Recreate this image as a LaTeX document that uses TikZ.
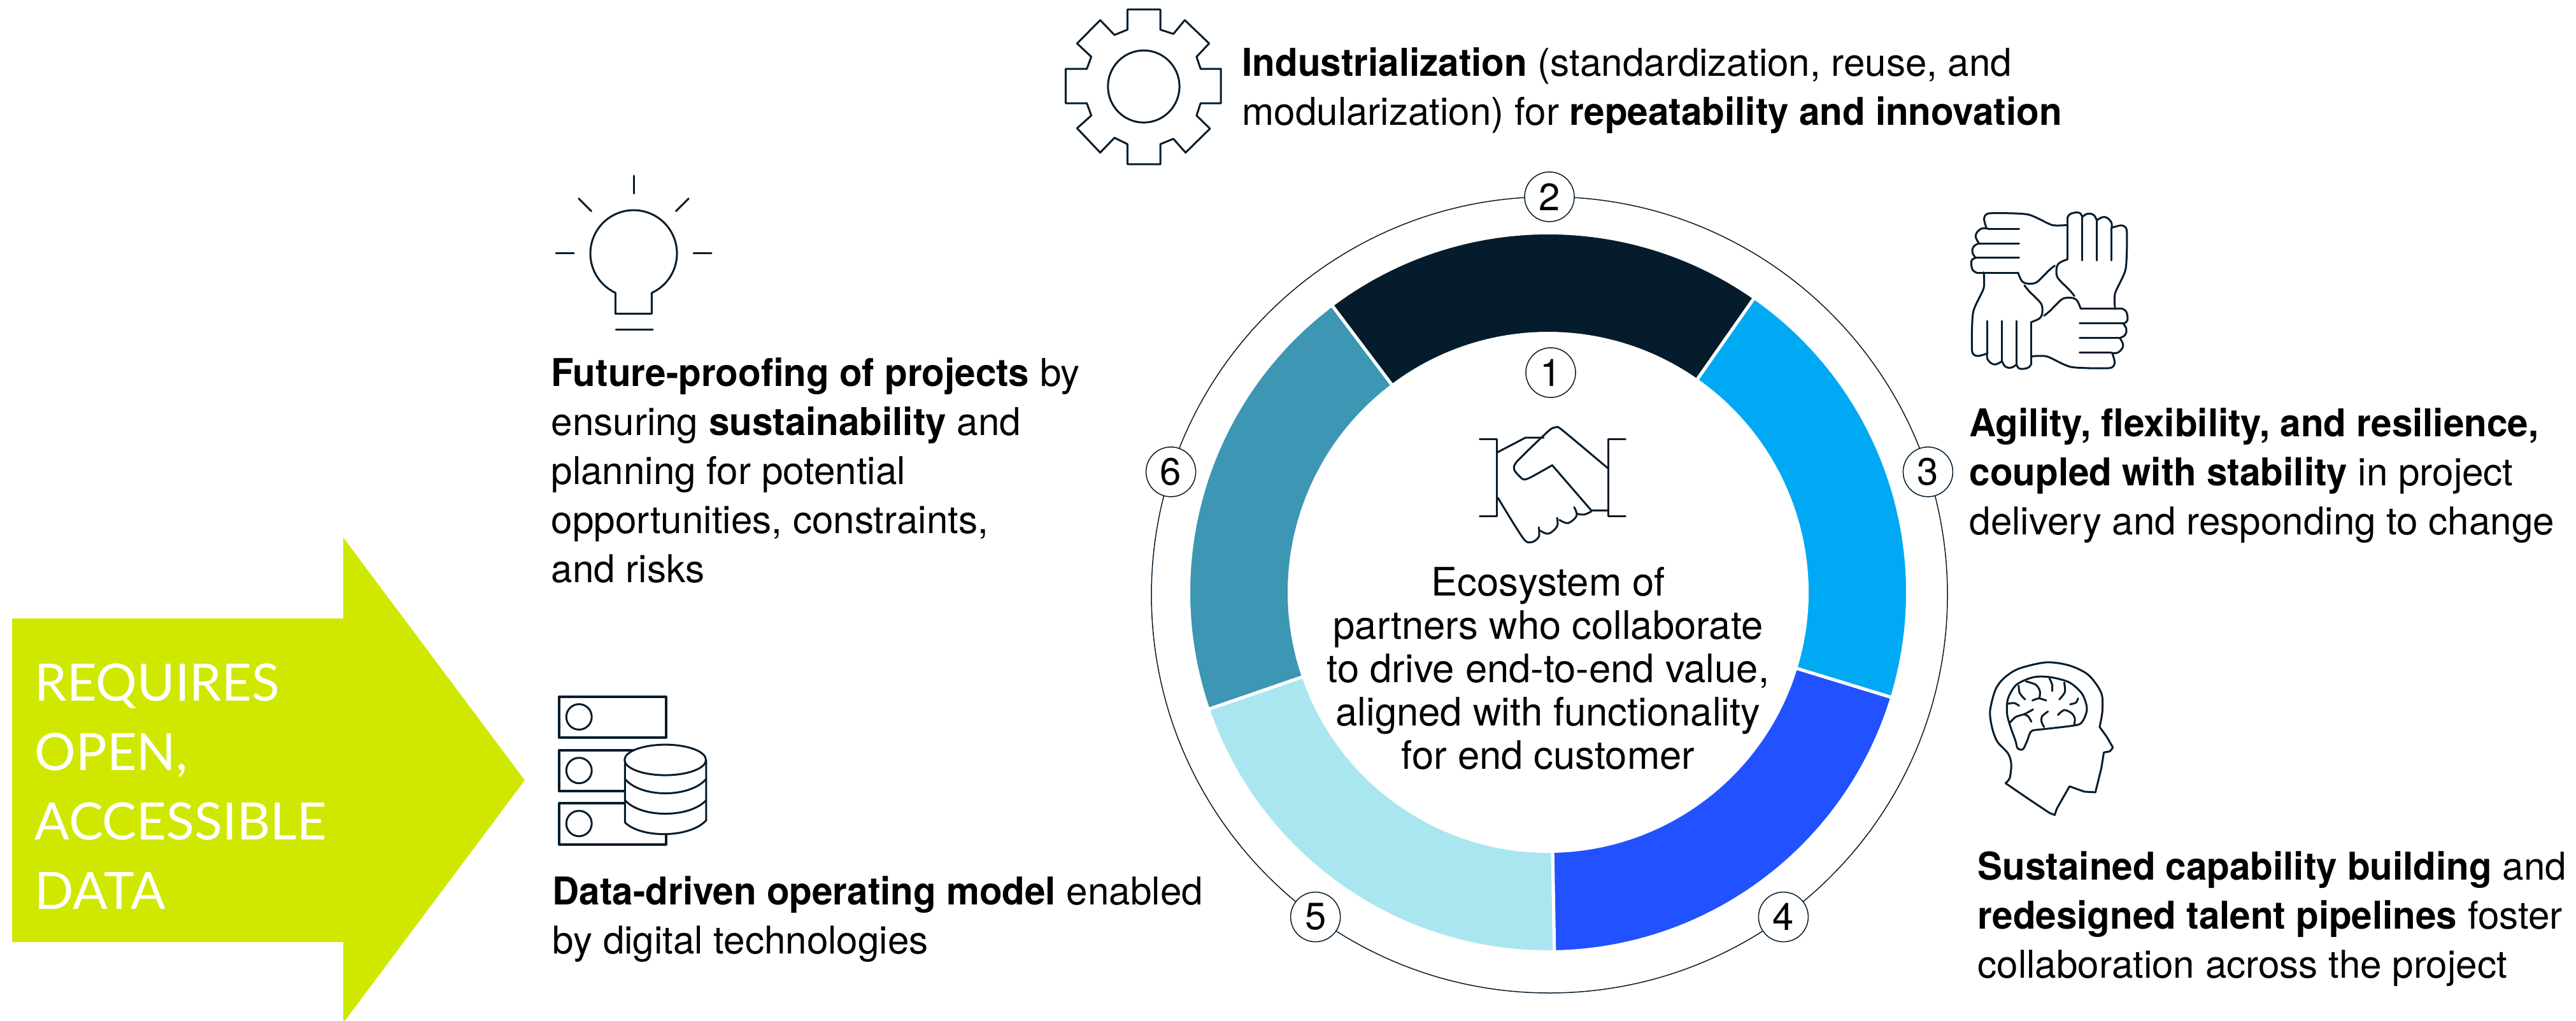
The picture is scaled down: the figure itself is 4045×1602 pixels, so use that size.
\documentclass[tikz,border=0pt]{standalone}
\usepackage{xcolor}
\usepackage{fontspec}
\usepackage{tikz}
\usetikzlibrary{calc}
\setmainfont[BoldFeatures={FakeStretch=0.97}]{TeX Gyre Heros}
\newfontfamily\arrowfont{Lato}
\definecolor{inkdark}{HTML}{051C2C}
\definecolor{segdark}{HTML}{051C2C}
\definecolor{segsky}{HTML}{00A9F4}
\definecolor{segblue}{HTML}{2251FF}
\definecolor{segcyan}{HTML}{AAE6F0}
\definecolor{segteal}{HTML}{3C96B4}
\definecolor{arrowlime}{HTML}{D0E800}
\begin{document}
\begin{tikzpicture}[x=.01cm,y=.01cm]
  \tikzstyle{seg}=[draw=white,line width=.05cm]
  \tikzstyle{numb}=[draw=inkdark,circle,fill=white,line width=.015cm,minimum size=.78cm,inner sep=0pt,font=\fontsize{17}{17}\selectfont]
  \tikzstyle{txt}=[anchor=north west,inner sep=0pt,align=left,font=\fontsize{17.1}{21.9}\selectfont]
  \tikzstyle{icon}=[draw=inkdark,line width=.03cm,line join=round,line cap=round]
\useasboundingbox (0,0) rectangle (4045,1602);
\coordinate (center) at (2431,672);
\coordinate (ring) at (2433,668);
% arrow
\fill[arrowlime] (19,631) -- (19,123) -- (539,123) -- (539,0) -- (542,0) -- (824,377) -- (539,758) -- (539,631) -- cycle;
\node[anchor=north west,inner sep=0pt,align=left,text=white,font=\arrowfont\fontsize{23}{31}\selectfont] (reqtext) at (54,561) {REQUIRES\\OPEN,\\ACCESSIBLE\\DATA};
% donut
\draw[inkdark,line width=.015cm] (ring) circle (625);
\foreach \col/\a in {segdark/55,segteal/127,segcyan/199,segblue/271,segsky/343}{
    \draw[seg,fill=\col] ($(center)+(\a:564.5)$) arc (\a:\a+72:564.5) -- ($(center)+(\a+72:406.5)$) arc (\a+72:\a:406.5) -- cycle;
}
\foreach \num/\a in {2/90,3/18,4/-54,5/234,6/162}{
    \node[numb] (n\num) at ($(ring)+(\a:625)$) {\num};
}
\node[numb] (n1) at (2435,1017) {1};
% texts
\node[anchor=north,inner sep=0pt,align=center,font=\fontsize{17.5}{19.3}\selectfont] (eco) at (2431,712) {Ecosystem of\\partners who collaborate\\to drive end-to-end value,\\aligned with functionality\\for end customer};
\node[txt] (indus) at (1950,1528) {\textbf{Industrialization} (standardization, reuse, and\\modularization) for \textbf{repeatability and innovation}};
\node[txt] (future) at (865,1041) {\textbf{Future-proofing of projects} by\\ensuring \textbf{sustainability} and\\planning for potential\\opportunities, constraints,\\and risks};
\node[txt] (agile) at (3092,962) {\textbf{Agility, flexibility, and resilience,}\\\textbf{coupled with stability} in project\\delivery and responding to change};
\node[txt] (talent) at (3105,266) {\textbf{Sustained capability building} and\\\textbf{redesigned talent pipelines} foster\\collaboration across the project};
\node[txt] (datatext) at (867,227) {\textbf{Data-driven operating model} enabled\\by digital technologies};
% bulb
\coordinate (bulb) at (995,1204);
\draw[icon] ($(bulb)+(-65:68)$) arc (-65:245:68) -- ++(0,-33) -- ++(57,0) -- ++(0,33);
\draw[icon] (967,1084) -- (1025,1084);
\foreach \a in {0,45,90,135,180}{
    \draw[icon] ($(bulb)+(\a:94)$) -- ($(bulb)+(\a:122)$);
}
% gear
\begin{scope}[shift={(1600,1602)},x=.006378cm,y=-.003333cm]
\draw[icon] (267,45) -- (348,45) -- (348,140) -- (380,160) -- (408,95) -- (468,205) -- (437,268) -- (447,325) -- (497,325) -- (497,487) -- (447,487) -- (437,545) -- (470,607) -- (410,720) -- (380,655) -- (348,680) -- (348,775) -- (267,775) -- (267,680) -- (235,650) -- (200,720) -- (143,605) -- (178,545) -- (167,487) -- (115,487) -- (115,325) -- (167,325) -- (178,268) -- (143,205) -- (200,95) -- (235,165) -- (267,140) -- cycle;
\draw[icon] (307,408) ellipse [x radius=88,y radius=170];
\end{scope}
% handshake
\begin{scope}[shift={(2150,1002)},x=.003827cm,y=-.003333cm]
\draw[icon] (453,270) -- (523,270) -- (523,632) -- (453,632);
\draw[icon] (1050,270) -- (980,270) -- (980,632) -- (1050,632);
\draw[icon] plot[smooth,tension=.4] coordinates {(980,408) (790,225) (765,213) (735,230) (605,375) (595,415) (630,458) (660,450) (750,392)};
\draw[icon] (750,392) -- (910,605) -- (980,605);
\draw[icon] (527,330) -- (640,262) -- (715,262);
\draw[icon] plot[smooth,tension=.5] coordinates {(527,545) (630,735) (665,755) (695,730) (695,685)};
\draw[icon] plot[smooth,tension=.6] coordinates {(700,700) (735,715) (770,680) (770,640)};
\draw[icon] plot[smooth,tension=.6] coordinates {(780,650) (815,665) (850,630) (840,590)};
\draw[icon] plot[smooth,tension=.6] coordinates {(850,620) (880,625) (910,610)};
\end{scope}
% hands
\begin{scope}[shift={(3044,1302)},x=.003333cm,y=-.003333cm]
\foreach \r in {0,90,180,270}{
\begin{scope}[rotate around={\r:(523,470)}]
    \draw[icon] plot[smooth,tension=.4] coordinates {(610,160) (535,160) (420,110) (240,105) (215,130) (225,172)};
    \draw[icon] plot[smooth,tension=.7] coordinates {(235,178) (200,178) (175,210) (190,245)};
    \draw[icon] plot[smooth,tension=.7] coordinates {(190,247) (165,262) (160,290) (175,315)};
    \draw[icon] plot[smooth,tension=.7] coordinates {(175,315) (155,330) (160,370) (180,385)};
    \draw[icon] (180,385) -- (375,385);
    \draw[icon] plot[smooth,tension=.5] coordinates {(375,385) (390,420) (410,435) (460,432) (520,375) (548,352)};
    \draw[icon] (235,178) -- (380,178);
    \draw[icon] (190,247) -- (380,247);
    \draw[icon] (175,315) -- (380,315);
\end{scope}
}
\end{scope}
% head
\begin{scope}[shift={(3050,602)},x=.003333cm,y=-.003333cm]
\draw[icon] plot[smooth,tension=.5] coordinates {(298,690) (318,665) (325,600) (310,550) (260,495) (235,430) (225,350) (250,250) (290,195) (360,150) (490,120) (600,135) (690,180) (750,265) (755,350) (742,425)};
\draw[icon] (742,425) -- (775,470) -- (805,522) -- (790,540) -- (762,545) -- (750,620) -- (722,733) -- (670,730) -- (600,705) -- (540,810) -- (530,840) -- (505,830) -- (400,760) -- (298,690);
\draw[icon] plot[smooth,tension=.5] coordinates {(430,440) (620,418) (660,400) (682,340) (660,270) (600,215) (510,190) (430,190) (350,225) (310,290) (305,360) (320,420) (345,490) (355,525) (380,530) (400,490) (415,450) (430,440)};
\draw[icon] plot[smooth] coordinates {(395,210) (440,225) (460,255) (458,290)};
\draw[icon] plot[smooth] coordinates {(425,300) (455,290) (490,300)};
\draw[icon] plot[smooth] coordinates {(360,230) (365,265) (390,295)};
\draw[icon] plot[smooth] coordinates {(505,195) (518,225) (518,255)};
\draw[icon] plot[smooth] coordinates {(575,215) (578,260) (552,295)};
\draw[icon] plot[smooth] coordinates {(640,290) (630,310) (603,318)};
\draw[icon] plot[smooth] coordinates {(310,315) (340,312) (362,325)};
\draw[icon] plot[smooth] coordinates {(318,405) (345,378) (385,365) (405,355) (428,342)};
\draw[icon] plot[smooth] coordinates {(385,365) (405,375) (420,400)};
\draw[icon] plot[smooth] coordinates {(498,352) (470,375) (468,400) (480,425)};
\draw[icon] plot[smooth] coordinates {(545,368) (575,345) (610,360) (625,385) (622,415)};
\end{scope}
% database
\begin{scope}[shift={(820,552)},x=.003333cm,y=-.003333cm]
\foreach \yy in {132,385,635}{
    \draw[icon,line width=.04cm] (175,\yy) rectangle (678,\yy+193);
    \draw[icon] (268,\yy+95) circle (60);
}
\draw[icon,fill=white] (485,430) -- (485,725) .. controls (560,800) and (790,800) .. (868,715) -- (868,430) -- cycle;
\draw[icon,fill=white] (675,430) ellipse [x radius=192,y radius=72];
\draw[icon] (485,520) .. controls (560,610) and (790,610) .. (868,520);
\draw[icon] (485,620) .. controls (560,705) and (790,705) .. (868,620);
\end{scope}
\end{tikzpicture}
\end{document}
